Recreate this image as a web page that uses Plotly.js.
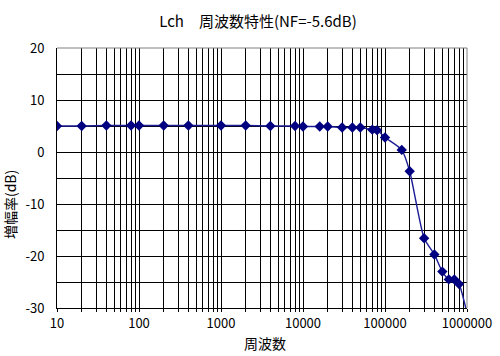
<!DOCTYPE html>
<html>
<head>
<meta charset="utf-8">
<script src="https://cdn.plot.ly/plotly-3.0.1.min.js"></script>
<style>html,body{margin:0;padding:0;background:#fff;}#chart{width:500px;height:356px;}</style>
</head>
<body>
<div id="chart"></div>
<script>
const freq = [10,20,40,80,100,200,400,1000,2000,4000,8000,10000,16000,20000,30000,40000,50000,70000,80000,100000,160000,200000,300000,400000,500000,600000,700000,800000,1000000];
const gain = [5.0,5.0,5.1,5.1,5.1,5.1,5.1,5.1,5.1,5.0,5.0,4.9,4.9,4.9,4.7,4.7,4.7,4.3,4.2,2.8,0.4,-3.7,-16.6,-19.7,-23.0,-24.5,-24.5,-25.4,-31];
const xTickLabels = ["10","100","1000","10000","100000","1000000"];
const yTickValues = [-30,-25,-20,-15,-10,-5,0,5,10,15,20];
const titleText = "Lch\u3000周波数特性(NF=-5.6dB)";
const xTitle = "周波数";
const yTitle = "増幅率(dB)";

// log-axis grid positions
const xTickVals = [], xTickText = [];
for (let d = 1; d <= 6; d++) {
  for (let m = 1; m <= 9; m++) {
    const v = m * Math.pow(10, d);
    if (v > 1000000) break;
    xTickVals.push(v);
    xTickText.push(m === 1 ? xTickLabels[d - 1] : "");
  }
}
const yTickText = yTickValues.map(v => (v % 10 === 0 ? String(v) : ""));

const font = "Noto Sans CJK JP, sans-serif";

const trace = {
  x: freq, y: gain, type: "scatter", mode: "lines+markers",
  line: {color: "#1c1c96", width: 1.4, shape: "spline", smoothing: 0.6},
  marker: {symbol: "diamond", size: 8, color: "#000080"},
  cliponaxis: true, showlegend: false
};

const layout = {
  width: 500, height: 356,
  margin: {l: 57, r: 33, t: 48, b: 48},
  paper_bgcolor: "#ffffff", plot_bgcolor: "#ffffff",
  font: {family: font, size: 13, color: "#000"},
  title: {text: titleText, font: {family: font, size: 15, color: "#000"},
          x: 0.516, xanchor: "center", y: 0.938, yanchor: "middle"},
  xaxis: {
    type: "log", range: [1, 6],
    tickmode: "array", tickvals: xTickVals, ticktext: xTickText,
    showgrid: true, gridcolor: "#000", gridwidth: 1,
    showline: true, linecolor: "#000", linewidth: 1,
    ticks: "outside", ticklen: 3, tickcolor: "#000",
    tickfont: {family: font, size: 13, color: "#000"},
    zeroline: false, fixedrange: true
  },
  yaxis: {
    range: [-30, 20],
    tickmode: "array", tickvals: yTickValues, ticktext: yTickText,
    showgrid: true, gridcolor: "#000", gridwidth: 1,
    showline: true, linecolor: "#000", linewidth: 1,
    ticks: "", ticklabelstandoff: 9,
    tickfont: {family: font, size: 13, color: "#000"},
    zeroline: false, fixedrange: true
  },
  shapes: [
    {type: "line", xref: "paper", yref: "paper", x0: 0, x1: 1, y0: 1, y1: 1, line: {color: "#808080", width: 1}, layer: "above"},
    {type: "line", xref: "paper", yref: "paper", x0: 1, x1: 1, y0: 0, y1: 1, line: {color: "#808080", width: 1}, layer: "above"}
  ],
  annotations: [
    {text: xTitle, xref: "paper", yref: "paper", x: 0.507, y: -0.135, xanchor: "center", yanchor: "middle", showarrow: false, font: {family: font, size: 14, color: "#000"}},
    {text: yTitle, xref: "paper", yref: "paper", x: -0.1146, y: 0.396, xanchor: "center", yanchor: "middle", textangle: -90, showarrow: false, font: {family: font, size: 14, color: "#000"}}
  ]
};

Plotly.newPlot("chart", [trace], layout, {staticPlot: true, displayModeBar: false});
</script>
</body>
</html>
